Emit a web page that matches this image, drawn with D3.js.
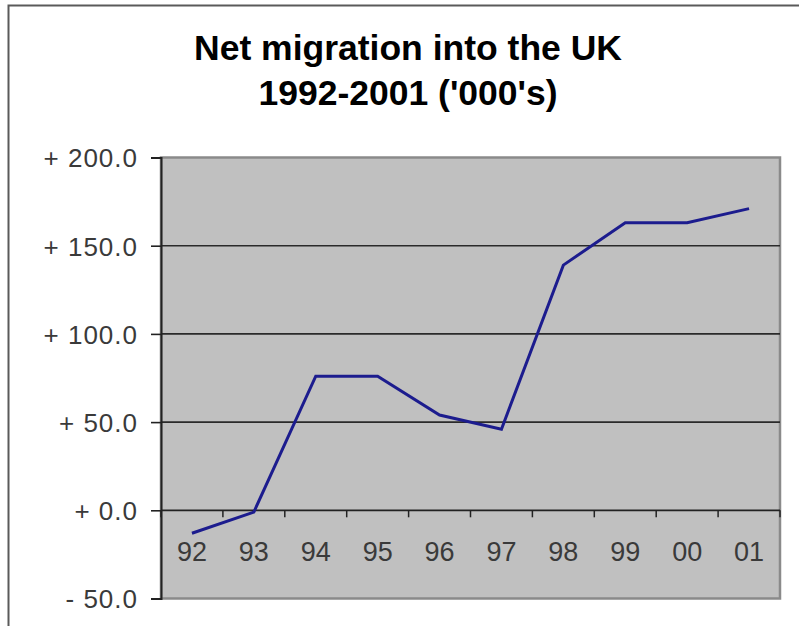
<!DOCTYPE html>
<html><head><meta charset="utf-8">
<script src="https://cdn.jsdelivr.net/npm/d3@7"></script>
<style>
html,body{margin:0;padding:0;background:#fff;}
svg{display:block;}
text{font-family:"Liberation Sans",Arial,sans-serif;}
</style></head>
<body>
<svg id="chart" width="799" height="626"></svg>
<script>
const titleLines = ["Net migration into the UK", "1992-2001 ('000's)"];
const categories = ["92","93","94","95","96","97","98","99","00","01"];
const values = [-13, -1, 76, 76, 54, 46, 139, 163, 163, 171];
const yTicks = [-50, 0, 50, 100, 150, 200];

const W = 799, H = 626;
const plot = {left:161, right:780, top:157.5, bottom:598.5};
const svg = d3.select("#chart");

// outer chart border
svg.append("rect").attr("x",8.5).attr("y",5.5).attr("width",W).attr("height",H)
  .attr("fill","#fff").attr("stroke","#5a5a5a").attr("stroke-width",2);

// title
const title = svg.append("text").attr("text-anchor","middle").attr("font-weight","bold")
  .attr("font-size",35.5).attr("fill","#000");
titleLines.forEach((t,i)=>{
  title.append("tspan").attr("x",408).attr("y",60 + i*45).text(t);
});

const x = d3.scaleBand().domain(categories).range([plot.left, plot.right]).padding(0);
const y = d3.scaleLinear().domain([-50, 200]).range([plot.bottom, plot.top]);

// plot area
svg.append("rect").attr("x",plot.left).attr("y",plot.top)
  .attr("width",plot.right-plot.left).attr("height",plot.bottom-plot.top)
  .attr("fill","#c0c0c0").attr("stroke","#8a8a8a").attr("stroke-width",2.5);

// gridlines
svg.append("g").selectAll("line").data(yTicks.filter(d=>d>0 && d<200)).join("line")
  .attr("x1",plot.left).attr("x2",plot.right)
  .attr("y1",d=>y(d)).attr("y2",d=>y(d))
  .attr("stroke","#2a2a2a").attr("stroke-width",1.6);

// value axis
const yAxis = d3.axisLeft(y).tickValues(yTicks).tickSize(10).tickPadding(13)
  .tickFormat(d => (d < 0 ? "- " : "+ ") + Math.abs(d).toFixed(1));
const ya = svg.append("g").attr("transform",`translate(${plot.left},0)`).call(yAxis);
ya.select(".domain").attr("stroke","#222").attr("stroke-width",2);
ya.selectAll(".tick line").attr("stroke","#222").attr("stroke-width",1.6);
ya.selectAll(".tick text").attr("font-size",26).attr("fill","#3a3a3a")
  .attr("letter-spacing","1px")
  .attr("font-family","'Liberation Sans',Arial,sans-serif").attr("dy","0.36em");

// category axis at y=0
const xg = svg.append("g").attr("transform",`translate(0,${y(0)})`);
xg.append("line").attr("x1",plot.left).attr("x2",plot.right).attr("y1",0).attr("y2",0)
  .attr("stroke","#222").attr("stroke-width",1.8);
const boundaries = categories.map(c => x(c)).concat([x(categories[categories.length-1]) + x.bandwidth()]);
xg.selectAll("line.tk").data(boundaries).join("line").attr("class","tk")
  .attr("x1",d=>d).attr("x2",d=>d).attr("y1",0).attr("y2",7)
  .attr("stroke","#222").attr("stroke-width",1.5);
xg.selectAll("text").data(categories).join("text")
  .attr("x",d=>x(d)+x.bandwidth()/2).attr("y",51)
  .attr("text-anchor","middle").attr("font-size",27).attr("fill","#3a3a3a").text(d=>d);

// line
const line = d3.line().x((d,i)=>x(categories[i])+x.bandwidth()/2).y(d=>y(d));
svg.append("path").datum(values).attr("d",line)
  .attr("fill","none").attr("stroke","#1c1c8e").attr("stroke-width",3)
  .attr("stroke-linejoin","miter");
</script>
</body></html>
